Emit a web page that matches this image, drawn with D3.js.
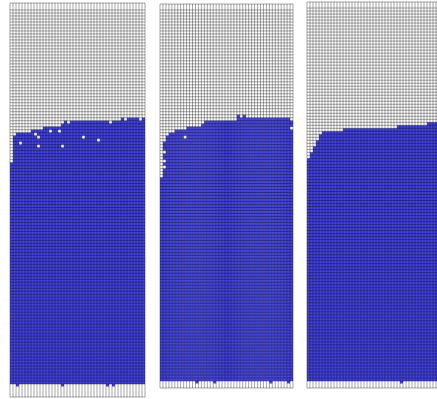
<!DOCTYPE html>
<html>
<head>
<meta charset="utf-8">
<script src="https://cdn.jsdelivr.net/npm/d3@7"></script>
<style>
  body { margin: 0; background: #fff; }
</style>
</head>
<body>
<div id="chart"></div>
<script>
// top filled row for every column (row index counted from grid top)
const panel1Tops = [51, 42, 41, 41, 41, 41, 41, 40, 40, 40, 40, 39, 39, 39, 39, 39, 39, 38, 37, 38,
  37, 37, 37, 37, 37, 37, 37, 37, 37, 37, 37, 37, 37, 38, 37, 37, 37, 36, 37, 36, 36, 36, 36, 37, 36];
const panel2Tops = [56, 44, 42, 41, 41, 40, 40, 40, 40, 39, 39, 39, 39, 39, 38, 37, 37, 37, 37, 37,
  37, 37, 37, 37, 37, 37, 35, 36, 35, 36, 36, 36, 36, 36, 36, 36, 36, 36, 36, 36, 36, 36, 36, 36, 37];
const panel3Tops = [50, 48, 46, 44, 42, 41, 41, 41, 41, 41, 41, 41, 40, 40, 40, 40, 40, 40, 40, 40,
  40, 40, 40, 40, 40, 40, 40, 40, 40, 40, 39, 39, 39, 39, 39, 39, 39, 39, 39, 39, 38, 38, 38, 38, 38];

// empty cells inside the filled part [col, row]
const panel1Holes = [[3, 44], [8, 41], [9, 42], [13, 40], [16, 40], [9, 45], [17, 45], [24, 42], [29, 43]];
const panel2Holes = [[1, 47], [1, 50], [1, 52], [8, 42], [44, 39]];
const panel3Holes = [];

// columns where the fill pokes into the bottom strip
const panel1Bumps = [2, 17, 32, 34];
const panel2Bumps = [12, 18, 37, 43];
const panel3Bumps = [31];

const cols = 45;

const panels = [
  { tops: panel1Tops, holes: panel1Holes, bumps: panel1Bumps, rows: 125,
    x0: 10, x1: 145, top: 3, gridTop: 10, gridBottom: 384, bottom: 397 },
  { tops: panel2Tops, holes: panel2Holes, bumps: panel2Bumps, rows: 124,
    x0: 160, x1: 293, top: 4, gridTop: 10, gridBottom: 381, bottom: 388 },
  { tops: panel3Tops, holes: panel3Holes, bumps: panel3Bumps, rows: 124,
    x0: 307, x1: 442, top: 2, gridTop: 8, gridBottom: 381, bottom: 388 },
];

const width = 437;
const height = 399;
const fill = '#4444e6';

const svg = d3.select('#chart')
  .append('svg')
  .attr('width', width)
  .attr('height', height);

panels.forEach((p) => {
  const x = d3.scaleLinear().domain([0, cols]).range([p.x0, p.x1]);
  const y = d3.scaleLinear().domain([0, p.rows]).range([p.gridTop, p.gridBottom]);
  const g = svg.append('g');

  g.append('rect')
    .attr('x', p.x0)
    .attr('y', p.top)
    .attr('width', p.x1 - p.x0)
    .attr('height', p.bottom - p.top)
    .attr('fill', '#fff');

  // filled columns
  g.selectAll('rect.col')
    .data(p.tops)
    .join('rect')
    .attr('class', 'col')
    .attr('x', (d, i) => x(i))
    .attr('y', (d) => y(d))
    .attr('width', x(1) - x(0))
    .attr('height', (d) => y(p.rows) - y(d))
    .attr('fill', fill);

  g.selectAll('rect.hole')
    .data(p.holes)
    .join('rect')
    .attr('class', 'hole')
    .attr('x', (d) => x(d[0]))
    .attr('y', (d) => y(d[1]))
    .attr('width', x(1) - x(0))
    .attr('height', y(1) - y(0))
    .attr('fill', '#fff');

  g.selectAll('rect.bump')
    .data(p.bumps)
    .join('rect')
    .attr('class', 'bump')
    .attr('x', (d) => x(d))
    .attr('y', p.gridBottom)
    .attr('width', x(1) - x(0))
    .attr('height', 2.5)
    .attr('fill', fill);

  // grid lines
  const lines = g.append('g')
    .attr('stroke', '#000')
    .attr('stroke-opacity', 0.45)
    .attr('stroke-width', 0.8);

  lines.selectAll('line.v')
    .data(d3.range(cols + 1))
    .join('line')
    .attr('x1', (d) => x(d))
    .attr('x2', (d) => x(d))
    .attr('y1', p.top)
    .attr('y2', p.bottom);

  lines.selectAll('line.h')
    .data(d3.range(p.rows + 1).map(y).concat([p.top, p.bottom]))
    .join('line')
    .attr('x1', p.x0)
    .attr('x2', p.x1)
    .attr('y1', (d) => d)
    .attr('y2', (d) => d);
});
</script>
</body>
</html>
